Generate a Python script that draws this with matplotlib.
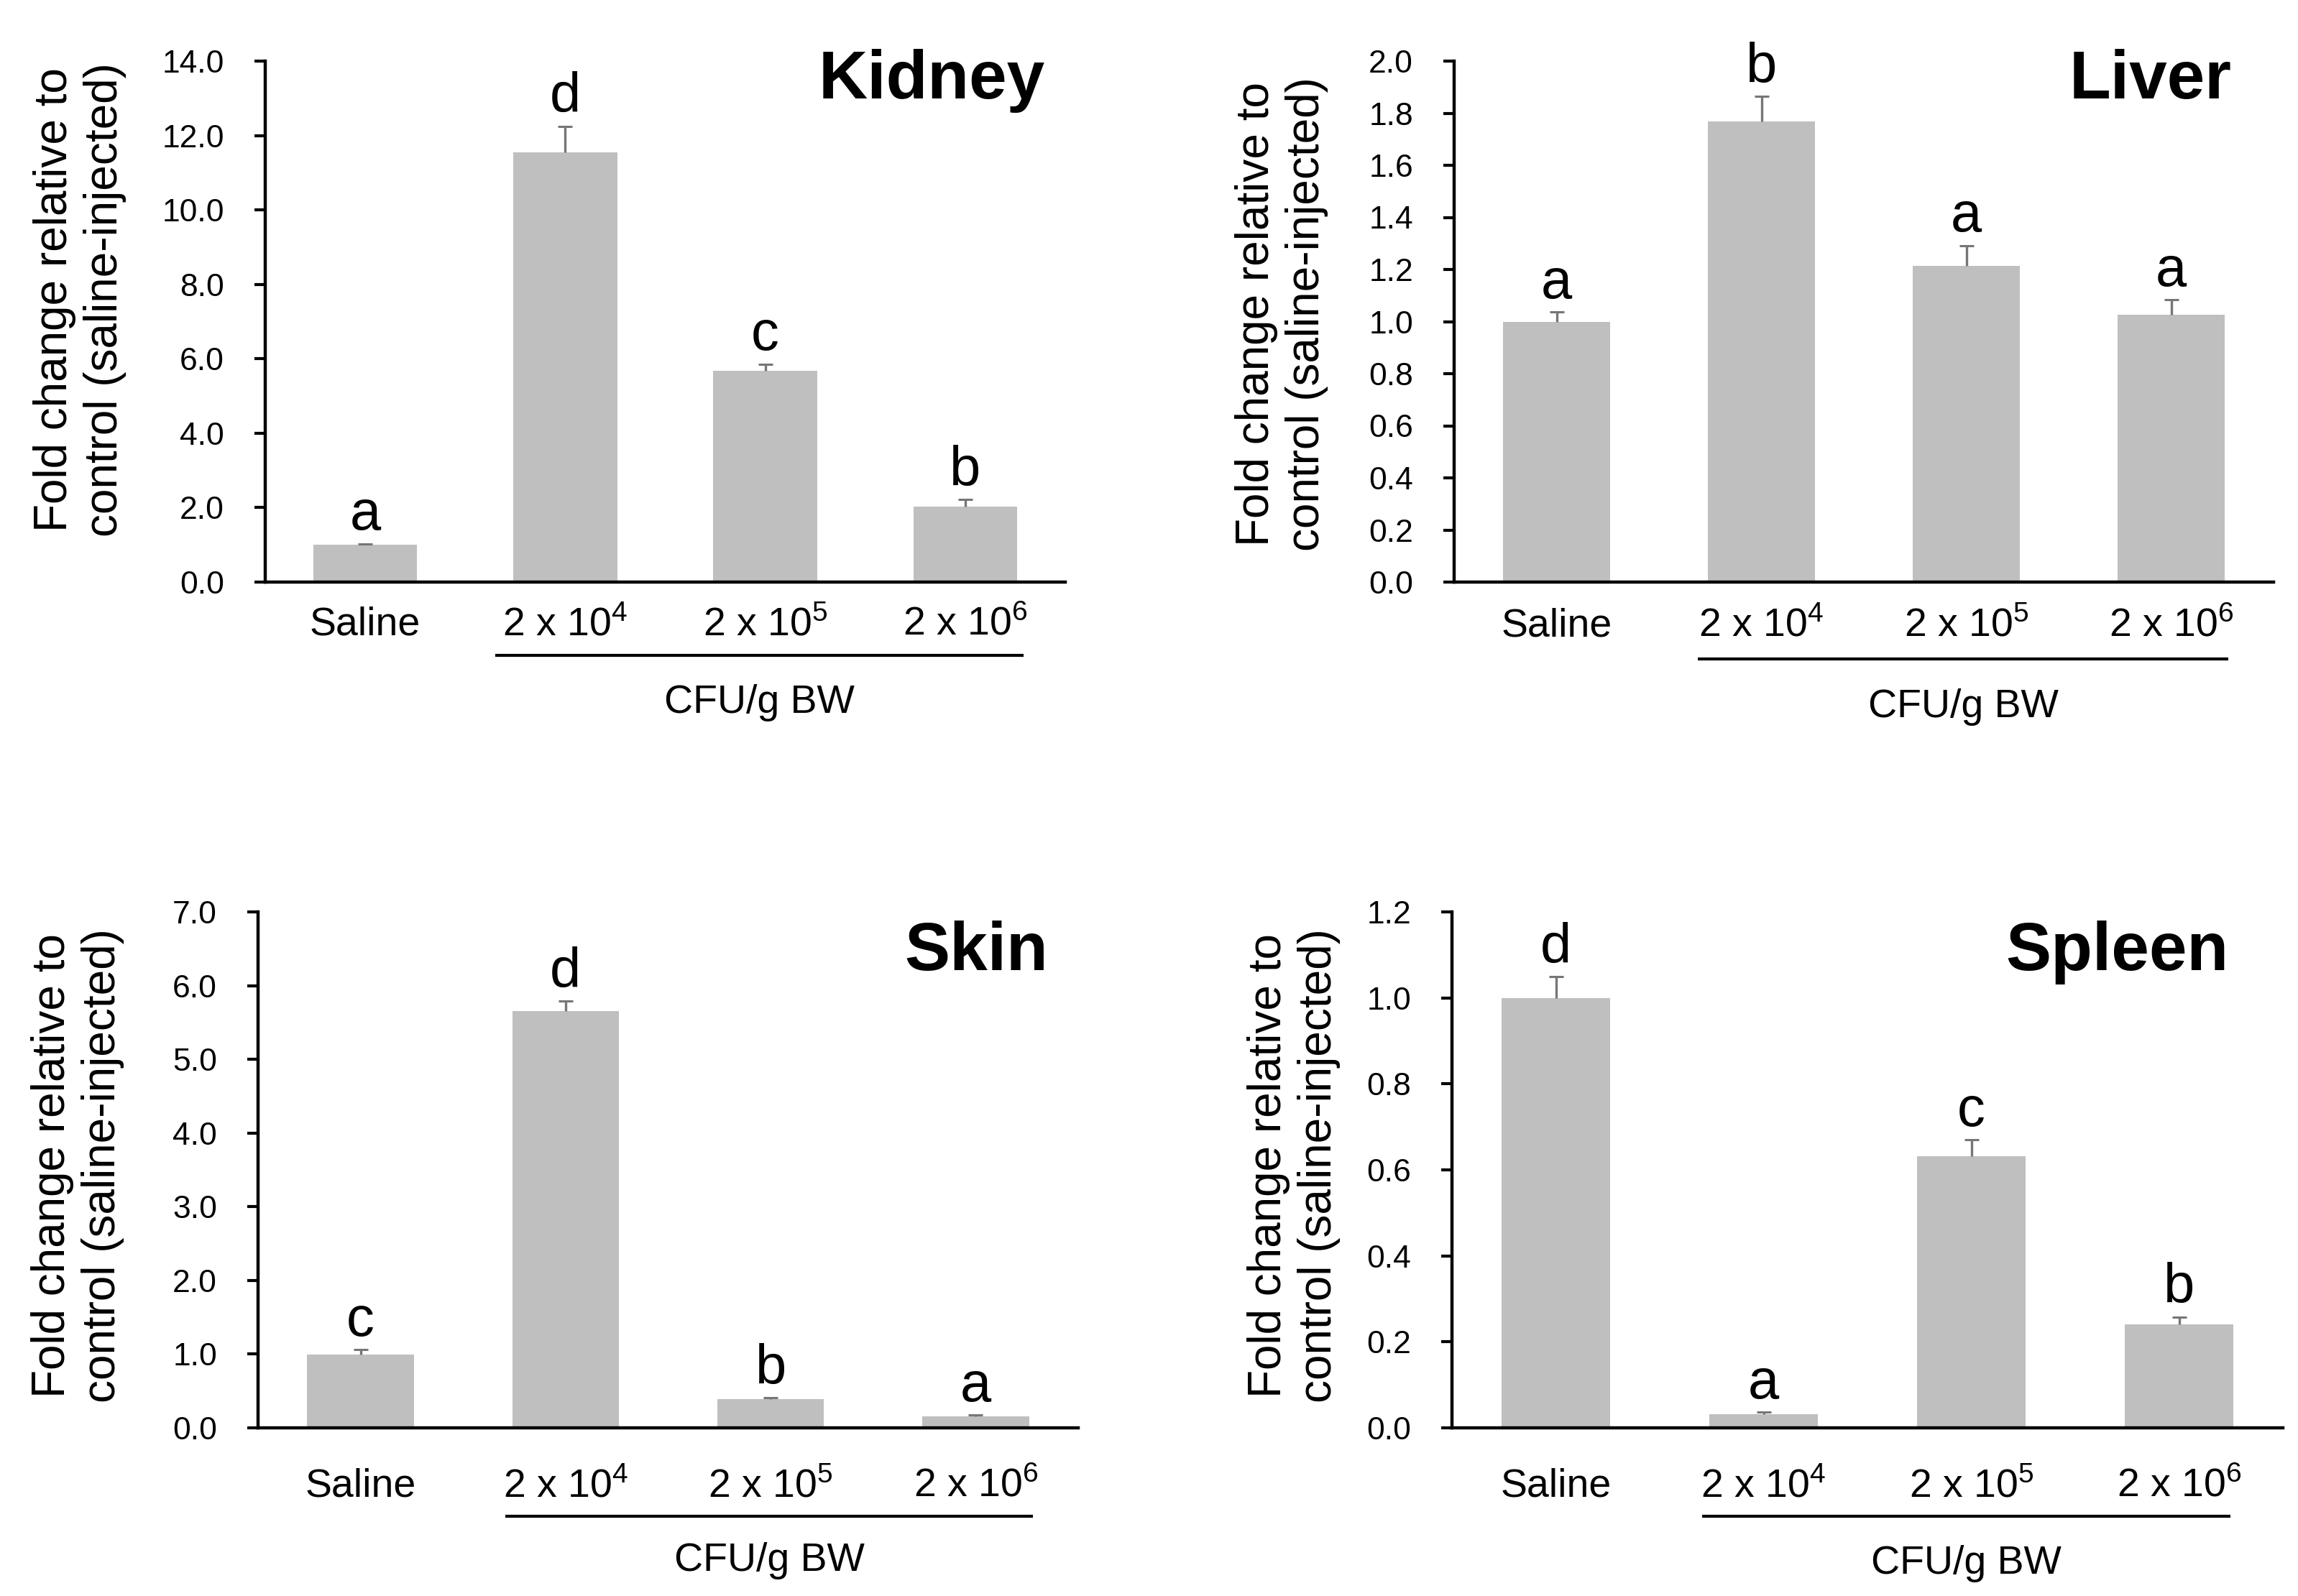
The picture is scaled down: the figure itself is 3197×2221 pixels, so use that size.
import matplotlib
matplotlib.use("Agg")
import matplotlib.pyplot as plt
import numpy as np

plt.rcParams['font.family'] = ['Liberation Sans', 'DejaVu Sans']
plt.rcParams['mathtext.fontset'] = 'custom'
plt.rcParams['mathtext.rm'] = 'Liberation Sans'
plt.rcParams['mathtext.it'] = 'Liberation Sans'

# ---- data ----
categories = ["Saline", "2 x 10$^{4}$", "2 x 10$^{5}$", "2 x 10$^{6}$"]
group_label = "CFU/g BW"
ylabel_text = "Fold change relative to\ncontrol (saline-injected)"

kidney_vals = [1.00, 11.55, 5.67, 2.03]
kidney_err = [0.03, 0.70, 0.19, 0.19]
kidney_letters = ["a", "d", "c", "b"]
kidney_ticks = [0, 2, 4, 6, 8, 10, 12, 14]

liver_vals = [1.00, 1.768, 1.214, 1.027]
liver_err = [0.037, 0.096, 0.078, 0.056]
liver_letters = ["a", "b", "a", "a"]
liver_ticks = [0.0, 0.2, 0.4, 0.6, 0.8, 1.0, 1.2, 1.4, 1.6, 1.8, 2.0]

skin_vals = [0.99, 5.65, 0.394, 0.16]
skin_err = [0.07, 0.14, 0.016, 0.014]
skin_letters = ["c", "d", "b", "a"]
skin_ticks = [0, 1, 2, 3, 4, 5, 6, 7]

spleen_vals = [1.00, 0.032, 0.632, 0.240]
spleen_err = [0.049, 0.004, 0.038, 0.018]
spleen_letters = ["d", "a", "c", "b"]
spleen_ticks = [0.0, 0.2, 0.4, 0.6, 0.8, 1.0, 1.2]

W, H = 3197, 2221
fig = plt.figure(figsize=(W / 100, H / 100), dpi=100)

BAR = '#bfbfbf'
ERR = '#767676'

panels = [
    dict(name="Kidney", vals=kidney_vals, err=kidney_err, letters=kidney_letters, ticks=kidney_ticks,
         rect=(369, 1482, 85, 810), title=(0.975, 0.928), ylab=(111, 417),
         line=(0.65, 3.29, -0.141), cfu=-0.251, pad=53),
    dict(name="Liver", vals=liver_vals, err=liver_err, letters=liver_letters, ticks=liver_ticks,
         rect=(2023, 3163, 85, 810), title=(0.949, 0.928), ylab=(1783, 437),
         line=(0.69, 3.28, -0.148), cfu=-0.259, pad=54),
    dict(name="Skin", vals=skin_vals, err=skin_err, letters=skin_letters, ticks=skin_ticks,
         rect=(359, 1500, 1269, 1987), title=(0.963, 0.887), ylab=(108, 1622),
         line=(0.706, 3.28, -0.171), cfu=-0.277, pad=69),
    dict(name="Spleen", vals=spleen_vals, err=spleen_err, letters=spleen_letters, ticks=spleen_ticks,
         rect=(2020, 3176, 1269, 1987), title=(0.935, 0.887), ylab=(1800, 1622),
         line=(0.704, 3.247, -0.171), cfu=-0.283, pad=69),
]

x = np.arange(len(categories))

for p in panels:
    l, r, t, b = p["rect"]
    ax = fig.add_axes([l / W, 1 - b / H, (r - l) / W, (b - t) / H])
    vals = np.array(p["vals"])
    err = np.array(p["err"])
    ax.bar(x, vals, width=0.52, color=BAR, zorder=2)
    eb = ax.errorbar(x, vals, yerr=[np.zeros_like(err), err], fmt='none', ecolor=ERR,
                     elinewidth=2.4, capsize=7, capthick=2.2, zorder=3)
    # keep only the upper caps
    caps = eb[1]
    if len(caps) == 2:
        lo_idx = 0 if np.mean(caps[0].get_ydata()) < np.mean(caps[1].get_ydata()) else 1
        caps[lo_idx].set_visible(False)
    for xi, v, e, let in zip(x, vals, err, p["letters"]):
        ax.annotate(let, (xi, v + e), xytext=(0, 14), textcoords='offset points',
                    ha='center', va='baseline', fontsize=56)
    ticks = p["ticks"]
    ax.set_ylim(ticks[0], ticks[-1])
    ax.set_yticks(ticks, [f"{tv:.1f}" for tv in ticks])
    ax.set_xlim(-0.5, 3.5)
    ax.set_xticks(x, categories)
    for s in ["top", "right"]:
        ax.spines[s].set_visible(False)
    for s in ["left", "bottom"]:
        ax.spines[s].set_linewidth(3.2)
    ax.tick_params(axis='y', direction='out', length=11, width=3.0, labelsize=32, pad=30)
    ax.tick_params(axis='x', length=0, labelsize=40, pad=p["pad"])
    for tl in ax.get_xticklabels():
        tl.set_va('baseline')
    ax.text(p["title"][0], p["title"][1], p["name"], transform=ax.transAxes,
            ha='right', va='baseline', fontsize=68, fontweight='bold')
    x0, x1, yf = p["line"]
    trans = ax.get_xaxis_transform()
    ax.plot([x0, x1], [yf, yf], transform=trans, color='black', lw=3.0,
            clip_on=False, solid_capstyle='butt')
    ax.text((x0 + x1) / 2, p["cfu"], group_label, transform=trans, ha='center',
            va='baseline', fontsize=40)
    fig.text(p["ylab"][0] / W, 1 - p["ylab"][1] / H, ylabel_text, rotation=90,
             ha='center', va='center', multialignment='center', fontsize=46)

fig.savefig("out.png", dpi=100, facecolor='white')
